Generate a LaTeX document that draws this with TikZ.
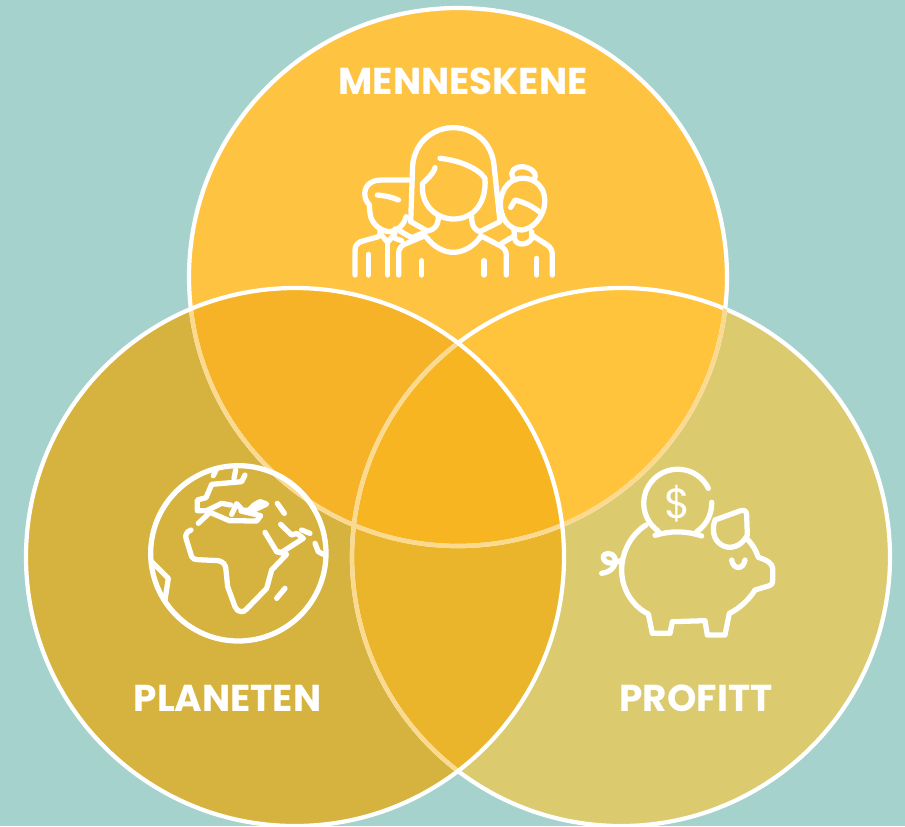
\documentclass[tikz,border=0pt]{standalone}
\usepackage{fontspec}
\setmainfont{Poppins}
\usepackage{tikz}
\usetikzlibrary{calc}
\usetikzlibrary{positioning}

\definecolor{seaGreen}{HTML}{A5D2CC}
\definecolor{topYellow}{HTML}{FFC342}
\definecolor{leftOchre}{HTML}{D6B33E}
\definecolor{rightSand}{HTML}{DBCA6E}
\definecolor{topLeftMix}{HTML}{F6B327}
\definecolor{topRightMix}{HTML}{FFC43C}
\definecolor{leftRightMix}{HTML}{EAB52B}
\definecolor{centreMix}{HTML}{F7B522}
\definecolor{paleRim}{HTML}{FBDA90}

\tikzset{
    rim/.style={line width=2.4pt, white},
    softrim/.style={line width=2.4pt, paleRim},
    iconline/.style={line width=3pt, white, line cap=round, line join=round},
    zoomed/.style={x=0.00667cm, y=-0.00667cm},
    title/.style={white, font=\fontsize{21.3pt}{24pt}\selectfont\bfseries}
}

\begin{document}
\begin{tikzpicture}[x=0.02cm, y=-0.02cm]
    \useasboundingbox (0,0) rectangle (905,826);
    \fill [seaGreen] (0,0) rectangle (905,826);

    \coordinate (topCentre) at (458,277);
    \coordinate (leftCentre) at (295,557);
    \coordinate (rightCentre) at (621,557);

    % the three discs and where they overlap
    \fill [leftOchre] (leftCentre) circle [radius=269];
    \fill [rightSand] (rightCentre) circle [radius=269];
    \fill [topYellow] (topCentre) circle [radius=269];
    \begin{scope}
        \clip (leftCentre) circle [radius=269];
        \fill [topLeftMix] (topCentre) circle [radius=269];
        \fill [leftRightMix] (rightCentre) circle [radius=269];
    \end{scope}
    \begin{scope}
        \clip (rightCentre) circle [radius=269];
        \fill [topRightMix] (topCentre) circle [radius=269];
    \end{scope}
    \begin{scope}
        \clip (leftCentre) circle [radius=269];
        \clip (rightCentre) circle [radius=269];
        \fill [centreMix] (topCentre) circle [radius=269];
    \end{scope}

    % rims
    \draw [rim] (topCentre) circle [radius=269];
    \draw [rim] (rightCentre) circle [radius=269];
    \begin{scope}
        \clip (rightCentre) circle [radius=269];
        \draw [softrim] (topCentre) circle [radius=269];
    \end{scope}
    \begin{scope}
        \clip (leftCentre) circle [radius=269];
        \draw [softrim] (topCentre) circle [radius=269];
        \draw [softrim] (rightCentre) circle [radius=269];
    \end{scope}
    \draw [rim] (leftCentre) circle [radius=269];

    \node [title] (menneskene) at (463,81) {MENNESKENE};
    \node [title] (planeten) at (227.5,698) {PLANETEN};
    \node [title] (profitt) at (696,698) {PROFITT};

    % people
    \begin{scope}[shift={(340,115)}, zoomed]
        \draw [iconline] (212,320) -- (218,150) .. controls (225,80) and (280,38) .. (340,38) .. controls (400,38) and (455,80) .. (462,150) -- (480,320) -- (420,350) .. controls (405,345) and (395,335) .. (395,305);
        \draw [iconline] (212,320) -- (262,348) .. controls (280,345) and (295,335) .. (295,305);
        \draw [iconline] (285,158) .. controls (278,180) and (262,190) .. (248,205) .. controls (240,270) and (290,312) .. (340,312) .. controls (400,312) and (440,265) .. (435,190) .. controls (410,155) and (350,135) .. (300,130);
        \draw [iconline] (258,365) .. controls (280,395) and (310,412) .. (340,412) .. controls (370,412) and (400,395) .. (422,365);
        \draw [iconline] (255,362) -- (195,387) .. controls (182,393) and (176,403) .. (176,415) -- (176,480);
        \draw [iconline] (422,362) -- (480,392) .. controls (492,398) and (499,407) .. (499,420) -- (499,480);
        \draw [iconline] (245,437) -- (245,480);
        \draw [iconline] (432,437) -- (432,480);
        % man on the left
        \draw [iconline] (205,195) -- (125,195) .. controls (90,195) and (70,215) .. (75,245) .. controls (77,258) and (85,265) .. (88,270) -- (90,295) .. controls (95,330) and (125,350) .. (150,350) .. controls (175,345) and (192,330) .. (198,305);
        \draw [iconline] (112,240) .. controls (135,242) and (155,246) .. (175,255);
        \draw [iconline] (120,342) -- (120,355) -- (143,382) -- (165,355) -- (165,342);
        \draw [iconline] (115,365) -- (62,380) .. controls (52,385) and (45,392) .. (45,405) -- (45,480);
        \draw [iconline] (143,382) -- (143,480);
        \draw [iconline] (85,418) -- (85,480);
        \draw [iconline] (180,348) -- (215,368) -- (258,350);
        \draw [iconline] (165,370) -- (185,377);
        % woman on the right
        \draw [iconline] (520,190) .. controls (505,165) and (530,155) .. (545,155) .. controls (565,155) and (595,170) .. (583,192);
        \draw [iconline] (497,320) .. controls (470,280) and (478,220) .. (518,197) .. controls (545,185) and (565,188) .. (585,200) .. controls (625,225) and (622,285) .. (590,320) .. controls (575,338) and (555,345) .. (545,345) .. controls (525,345) and (508,335) .. (497,320);
        \draw [iconline] (512,277) -- (525,255) .. controls (555,262) and (580,275) .. (600,292);
        \draw [iconline] (522,345) -- (524,372) .. controls (530,392) and (560,392) .. (575,372) -- (575,350);
        \draw [iconline] (575,360) -- (622,390) .. controls (632,397) and (637,407) .. (637,420) -- (637,480);
        \draw [iconline] (524,362) -- (485,385);
        \draw [iconline] (590,430) -- (590,480);
    \end{scope}

    % globe
    \begin{scope}[shift={(140,455)}, zoomed]
        \coordinate (globeCentre) at (295,295);
        \draw [iconline] (globeCentre) circle [radius=263];
        \draw [iconline] (228,45) -- (220,62);
        \draw [iconline] (287,45) -- (282,70);
        \draw [iconline] (315,60) -- (305,80) -- (215,88) -- (198,128) -- (172,135) -- (172,167) -- (200,167) -- (245,145) -- (272,150);
        \draw [iconline] (175,205) -- (210,172) -- (268,197) -- (350,198) -- (362,182) -- (303,168);
        \draw [iconline] (275,178) -- (290,146) -- (308,166) -- (340,166) -- (380,147) -- (360,140) -- (342,150) -- (326,166);
        \draw [iconline] (153,225) .. controls (140,230) and (135,240) .. (138,250) -- (155,305) .. controls (158,312) and (165,314) .. (175,314) -- (235,317) .. controls (250,320) and (258,330) .. (258,345) -- (263,395) -- (285,455) .. controls (292,472) and (310,475) .. (320,462) -- (380,400) -- (395,345) -- (440,298) -- (410,290) -- (375,232);
        \draw [iconline] (410,290) -- (425,292) -- (490,250) -- (470,235) -- (455,240) -- (422,208);
        \draw [iconline] (485,225) -- (510,235);
        \draw [iconline] (412,145) -- (433,175);
        \draw [iconline] (525,265) -- (535,290) -- (550,298);
        \draw [iconline] (410,430) -- (435,400);
        \draw [iconline] (35,320) -- (85,370) -- (75,435);
    \end{scope}

    % piggy bank
    \begin{scope}[shift={(590,460)}, zoomed]
        \coordinate (coinCentre) at (263,130);
        \draw [iconline] (355,85) arc [start angle=-26, end angle=-235, radius=102];
        \draw [iconline] (365,127) arc [start angle=-2, end angle=56, radius=102];
        \node [white, font=\fontsize{24pt}{24pt}\selectfont] (dollar) at (coinCentre) {\$};
        \draw [iconline] (195,226) .. controls (240,212) and (290,212) .. (335,228);
        \draw [iconline] (168,195) .. controls (120,225) and (95,280) .. (95,330) .. controls (95,390) and (130,440) .. (175,462) -- (187,520) -- (240,520) -- (247,485) -- (345,482) -- (352,525) -- (405,525) -- (418,460) .. controls (450,445) and (480,415) .. (495,390) -- (535,378) .. controls (545,375) and (548,370) .. (548,360) -- (548,325) .. controls (548,310) and (530,300) .. (505,292) .. controls (498,270) and (485,250) .. (470,235);
        \draw [iconline] (375,180) -- (452,152) .. controls (465,148) and (470,155) .. (470,165) -- (472,225) .. controls (455,260) and (420,270) .. (395,255) .. controls (370,240) and (365,210) .. (375,180);
        \draw [iconline] (425,300) .. controls (430,330) and (460,330) .. (465,300);
        \draw [iconline] (35,340) .. controls (70,335) and (80,310) .. (75,295) .. controls (68,275) and (38,275) .. (40,295) .. controls (42,310) and (70,315) .. (95,300);
    \end{scope}
\end{tikzpicture}
\end{document}
